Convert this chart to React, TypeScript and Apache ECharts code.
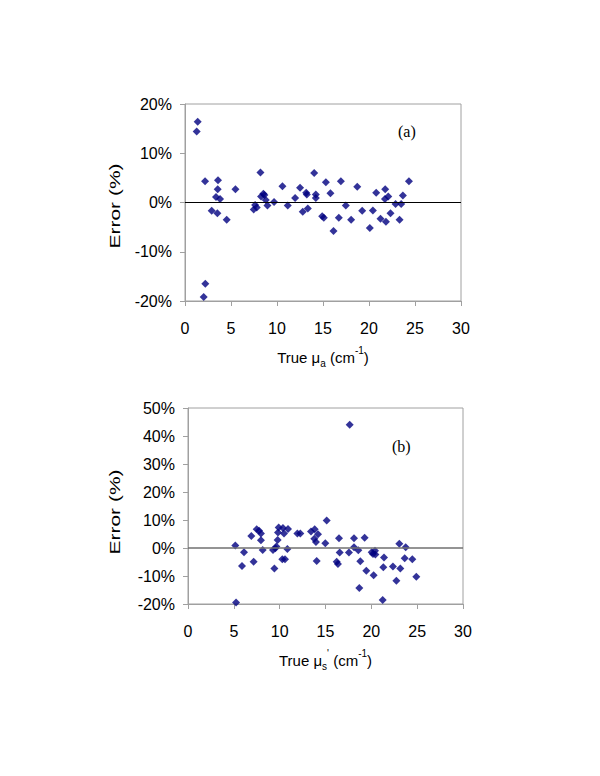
import React, { useEffect, useRef } from "react";
import * as echarts from "echarts";

// Panel (a): true mu_a (cm^-1) vs error (%)
const muaX = [1.38, 1.27, 2.21, 2.03, 2.18, 3.59, 3.55, 3.37, 3.81, 2.9, 3.52, 4.53, 5.48, 7.47, 7.62, 7.8, 8.2, 8.27, 8.52, 8.63, 8.78, 8.96, 9.68, 10.59, 11.17, 11.97, 12.51, 12.8, 13.17, 13.24, 13.35, 14.04, 14.22, 14.22, 14.91, 15.09, 15.31, 15.81, 16.14, 16.72, 16.94, 17.48, 18.06, 18.72, 19.26, 20.09, 20.42, 20.78, 21.25, 21.76, 21.84, 21.73, 22.09, 22.34, 22.89, 23.32, 23.5, 23.68, 24.34];
const muaErr = [16.4, 14.4, -16.5, -19.2, 4.3, 4.5, 2.7, 1.1, 0.7, -1.7, -2.2, -3.5, 2.7, -1.4, -0.5, -1.0, 6.1, 1.2, 1.8, 1.5, 0.5, -0.6, 0.1, 3.3, -0.6, 0.9, 3.0, -1.9, 2.0, 1.6, -1.2, 6.0, 1.6, 0.9, -2.8, -3.1, 4.1, 1.9, -5.8, -3.1, 4.3, -0.6, -3.5, 3.2, -1.7, -5.2, -1.6, 2.0, -3.3, 2.7, -3.9, 0.7, 1.2, -2.2, -0.3, -3.5, -0.3, 1.4, 4.3];

// Panel (b): true mu_s' (cm^-1) vs error (%)
const musX = [17.64, 5.16, 5.24, 5.89, 6.11, 6.91, 7.16, 7.49, 7.75, 7.96, 7.96, 8.15, 9.27, 9.42, 9.53, 9.64, 9.78, 9.89, 9.82, 10.36, 10.47, 10.29, 10.58, 10.91, 10.84, 11.93, 12.25, 13.42, 13.82, 13.78, 13.96, 14.18, 14.04, 15.13, 14.98, 16.47, 16.22, 16.36, 16.55, 17.56, 18.11, 18.11, 18.58, 18.69, 18.8, 19.27, 19.45, 20.04, 20.18, 20.4, 20.44, 20.25, 21.24, 21.38, 21.31, 22.36, 22.73, 23.05, 23.16, 23.64, 23.75, 24.47, 24.91];
const musErr = [44.0, 0.9, -19.5, -6.4, -1.5, 4.3, -4.9, 6.7, 6.2, 5.2, 2.8, -0.7, -0.7, -7.3, -0.1, 0.5, 2.9, 7.3, 5.5, 7.1, 5.2, -4.0, -4.0, 6.8, -0.4, 5.2, 5.2, 5.9, 6.7, 3.3, 2.1, 4.9, -4.6, 9.8, 1.7, 3.5, -4.9, -5.7, -1.6, -1.6, 3.5, 0.3, -0.8, -14.3, -4.7, 3.7, -8.1, -1.5, -2.1, -1.0, -2.3, -9.7, -18.6, -3.4, -6.9, -6.6, -11.7, 1.5, -7.3, -3.7, 0.3, -4.0, -10.3];

const xTicks = { min: 0, max: 30, interval: 5 };
const yTicksA = { min: -20, max: 20, interval: 10 };
const yTicksB = { min: -20, max: 50, interval: 10 };
const yTitle = "Error (%)";

const FONT = "'Liberation Sans', Arial, sans-serif";
const SERIF = "'Liberation Serif', 'Times New Roman', serif";
const MARK = "#000080";

function zip(xs: number[], ys: number[]) {
  return xs.map((x, i) => [x, ys[i]]);
}

export default function App() {
  const ref = useRef<HTMLDivElement>(null);
  useEffect(() => {
    if (!ref.current) return;
    const chart = echarts.init(ref.current, undefined, { renderer: "svg" });
    const gray = "#a0a0a0";
    const mkX = (gi: number, rich: any, name: string) => ({
      type: "value",
      gridIndex: gi,
      ...xTicks,
      name,
      nameLocation: "middle",
      nameGap: 44,
      nameTextStyle: { rich },
      axisLine: { show: true, onZero: false, lineStyle: { color: gray, width: 1 } },
      axisTick: { show: true, inside: false, length: 5, lineStyle: { color: gray } },
      axisLabel: { color: "#000", fontFamily: FONT, fontSize: 16, margin: 19 },
      splitLine: { show: false },
    });
    const mkY = (gi: number, t: any) => ({
      type: "value",
      gridIndex: gi,
      ...t,
      axisLine: { show: true, onZero: false, lineStyle: { color: gray, width: 1 } },
      axisTick: { show: true, inside: false, length: 5, lineStyle: { color: gray } },
      axisLabel: { color: "#000", fontFamily: FONT, fontSize: 16, margin: 13, formatter: "{value}%" },
      splitLine: { show: false },
    });
    const richBase = {
      n: { color: "#000", fontFamily: FONT, fontSize: 15, verticalAlign: "bottom", lineHeight: 20 },
      sub: { color: "#000", fontFamily: FONT, fontSize: 10, verticalAlign: "bottom", lineHeight: 14, padding: [0, 0, -3, 0] },
      sup: { color: "#000", fontFamily: FONT, fontSize: 10, verticalAlign: "top", lineHeight: 14, padding: [0, 0, 0, 0] },
    };
    const yName = (cy: number) => ({
      type: "text",
      x: 115,
      y: cy,
      rotation: Math.PI / 2,
      scaleX: 1.4,
      style: { text: yTitle, font: `15px ${FONT}`, fill: "#000", align: "center", verticalAlign: "middle" },
    });
    chart.setOption({
      animation: false,
      grid: [
        { left: 185, right: 139, top: 104, height: 197, show: true, borderColor: gray, borderWidth: 1, backgroundColor: "transparent" },
        { left: 188, right: 137, top: 408, height: 196, show: true, borderColor: gray, borderWidth: 1, backgroundColor: "transparent" },
      ],
      xAxis: [
        mkX(0, richBase, "{n|True μ}{sub|a}{n| (cm}{sup|-1}{n|)}"),
        mkX(1, richBase, "{n|True μ}{sub|s}{sup|'}{n| (cm}{sup|-1}{n|)}"),
      ],
      yAxis: [mkY(0, yTicksA), mkY(1, yTicksB)],
      graphic: [
        yName(206),
        yName(512),
        { type: "text", left: 398, top: 123, style: { text: "(a)", font: `16px ${SERIF}`, fill: "#000" } },
        { type: "text", left: 392, top: 438, style: { text: "(b)", font: `16px ${SERIF}`, fill: "#000" } },
      ],
      series: [
        {
          type: "scatter",
          xAxisIndex: 0,
          yAxisIndex: 0,
          symbol: "diamond",
          symbolSize: 8,
          itemStyle: { color: MARK },
          data: zip(muaX, muaErr),
          markLine: {
            silent: true,
            symbol: "none",
            label: { show: false },
            lineStyle: { color: "#000", width: 1, type: "solid" },
            data: [{ yAxis: 0 }],
          },
          z: 3,
        },
        {
          type: "scatter",
          xAxisIndex: 1,
          yAxisIndex: 1,
          symbol: "diamond",
          symbolSize: 8,
          itemStyle: { color: MARK },
          data: zip(musX, musErr),
          markLine: {
            silent: true,
            symbol: "none",
            label: { show: false },
            lineStyle: { color: "#707070", width: 1.5, type: "solid" },
            data: [{ yAxis: 0 }],
          },
          z: 3,
        },
      ],
    });
    return () => chart.dispose();
  }, []);
  return <div ref={ref} style={{ width: 600, height: 776, position: "absolute", left: 0, top: 0 }} />;
}
